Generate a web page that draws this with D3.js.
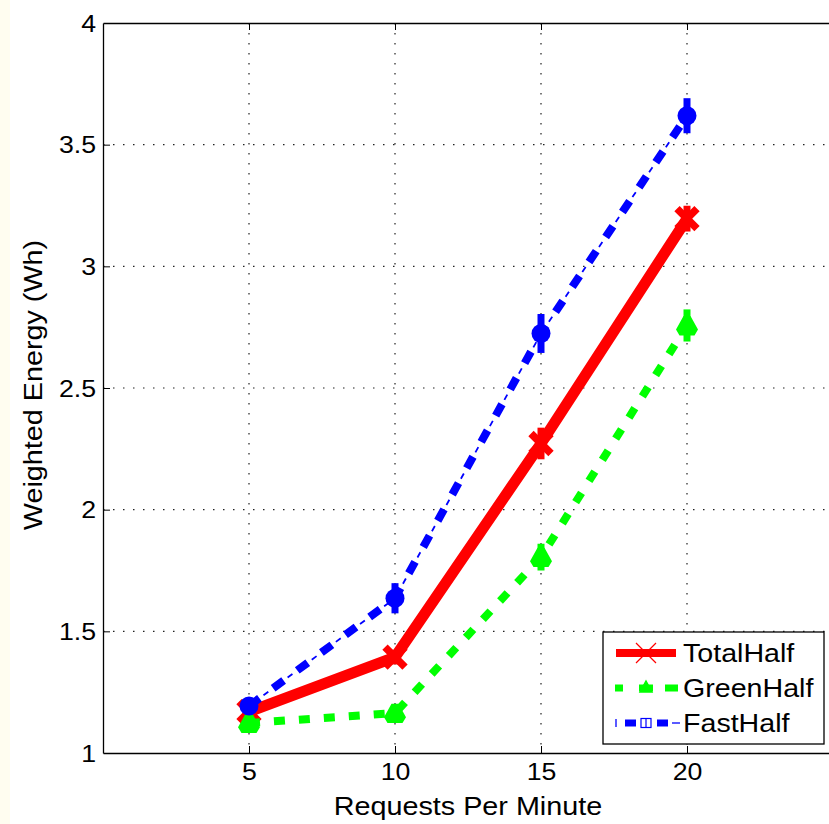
<!DOCTYPE html>
<html><head><meta charset="utf-8">
<script src="https://cdn.jsdelivr.net/npm/d3@7"></script>
<style>
body{margin:0;background:#fff;}
svg{display:block;}
text{font-family:"Liberation Sans",Arial,Helvetica,sans-serif;fill:#000;}
</style></head>
<body>
<svg id="chart" width="829" height="824"></svg>
<script>
// ---- data ----
const xValues = [5, 10, 15, 20];
const xTickValues = [5, 10, 15, 20];
const yTickValues = [1, 1.5, 2, 2.5, 3, 3.5, 4];
const yTickLabels = ["1", "1.5", "2", "2.5", "3", "3.5", "4"];
const seriesNames = ["TotalHalf", "GreenHalf", "FastHalf"];
const totalHalf = [1.17, 1.394, 2.272, 3.196];
const totalErr  = [0.02, 0.03, 0.065, 0.053];
const greenHalf = [1.123, 1.164, 1.805, 2.757];
const greenErr  = [0.02, 0.02, 0.055, 0.066];
const fastHalf  = [1.193, 1.636, 2.724, 3.619];
const fastErr   = [0.02, 0.062, 0.08, 0.072];
const xLabel = "Requests Per Minute";
const yLabel = "Weighted Energy (Wh)";

const svg = d3.select("#chart");
const L = 103, T = 23, B = 753, R = 833;
const x = d3.scaleLinear().domain([0, 25]).range([L, R]);
const y = d3.scaleLinear().domain([1, 4]).range([B, T]);

// left cream strip
svg.append("rect").attr("x", 0).attr("y", 0).attr("width", 10).attr("height", 824).attr("fill", "#fffdf0");

// grid
const grid = svg.append("g");
xTickValues.forEach(v => grid.append("line").attr("x1", x(v)).attr("x2", x(v)).attr("y1", T).attr("y2", B)
  .attr("stroke", "#222").attr("stroke-width", 1.2).attr("stroke-dasharray", "1.5,8.5"));
yTickValues.slice(1, -1).forEach(v => grid.append("line").attr("x1", L).attr("x2", R).attr("y1", y(v)).attr("y2", y(v))
  .attr("stroke", "#222").attr("stroke-width", 1.2).attr("stroke-dasharray", "1.5,8.5"));

// axes
const ax = svg.append("g");
const axBottom = ax.append("g").attr("transform", `translate(0,${B})`)
  .call(d3.axisBottom(x).tickValues(xTickValues).tickSizeInner(-7).tickSizeOuter(0).tickPadding(11).tickFormat(d3.format("d")));
const axTop = ax.append("g").attr("transform", `translate(0,${T})`)
  .call(d3.axisTop(x).tickValues(xTickValues).tickSizeInner(-7).tickSizeOuter(0).tickFormat(""));
const axLeft = ax.append("g").attr("transform", `translate(${L},0)`)
  .call(d3.axisLeft(y).tickValues(yTickValues).tickSizeInner(-7).tickSizeOuter(0).tickPadding(7)
    .tickFormat((d, i) => yTickLabels[i]));
[axBottom, axTop, axLeft].forEach(g => {
  g.selectAll(".domain").attr("stroke", "#000").attr("stroke-width", 1.3);
  g.selectAll(".tick line").attr("stroke", "#000").attr("stroke-width", 1);
  g.selectAll("text").attr("class", "tk").attr("font-size", 23).attr("font-family", null);
});
axBottom.selectAll("text").attr("dy", "0.71em");
axLeft.selectAll("text").attr("dy", "0.36em");
axLeft.selectAll(".tick").filter(d => d === 1 || d === 4).select("line").remove();

// series
const plot = svg.append("g");
function errorBars(vals, errs, color, w) {
  plot.append("g").selectAll("line").data(xValues).join("line")
    .attr("x1", d => x(d)).attr("x2", d => x(d))
    .attr("y1", (d, i) => y(vals[i] - errs[i])).attr("y2", (d, i) => y(vals[i] + errs[i]))
    .attr("stroke", color).attr("stroke-width", w);
}
const line = (vals) => d3.line().x(d => x(d)).y((d, i) => y(vals[i]))(xValues);

// TotalHalf
plot.append("path").attr("d", line(totalHalf)).attr("fill", "none").attr("stroke", "#ff0000")
  .attr("stroke-width", 11).attr("stroke-linejoin", "miter");
errorBars(totalHalf, totalErr, "#ff0000", 7);
plot.append("g").selectAll("path").data(xValues).join("path")
  .attr("d", (d, i) => { const cx = x(d), cy = y(totalHalf[i]), s = 10;
    return `M${cx - s},${cy - s}L${cx + s},${cy + s}M${cx - s},${cy + s}L${cx + s},${cy - s}`; })
  .attr("stroke", "#ff0000").attr("stroke-width", 7.5).attr("fill", "none");

// GreenHalf
plot.append("path").attr("d", line(greenHalf)).attr("fill", "none").attr("stroke", "#00ff00")
  .attr("stroke-width", 8).attr("stroke-dasharray", "11,14");
errorBars(greenHalf, greenErr, "#00ff00", 7);
plot.append("g").selectAll("path").data(xValues).join("path")
  .attr("d", (d, i) => { const cx = x(d), cy = y(greenHalf[i]), s = 7.5;
    return `M${cx},${cy - s}L${cx + s},${cy + s * 0.8}L${cx - s},${cy + s * 0.8}Z`; })
  .attr("fill", "#00ff00").attr("stroke", "#00ff00").attr("stroke-width", 8).attr("stroke-linejoin", "bevel");

// FastHalf
plot.append("path").attr("d", line(fastHalf)).attr("fill", "none").attr("stroke", "#0000ff")
  .attr("stroke-width", 8).attr("stroke-dasharray", "13,17");
plot.append("path").attr("d", line(fastHalf)).attr("fill", "none").attr("stroke", "#0000ff")
  .attr("stroke-width", 1.8).attr("stroke-dasharray", "0,18,6,6");
errorBars(fastHalf, fastErr, "#0000ff", 7);
plot.append("g").selectAll("circle").data(xValues).join("circle")
  .attr("cx", d => x(d)).attr("cy", (d, i) => y(fastHalf[i])).attr("r", 9.5).attr("fill", "#0000ff");

// axis labels
svg.append("text").attr("class", "axl").attr("x", 468).attr("y", 815).attr("text-anchor", "middle")
  .attr("font-size", 25).text(xLabel);
svg.append("text").attr("class", "axl").attr("transform", "translate(42,385) rotate(-90)").attr("text-anchor", "middle")
  .attr("font-size", 25).text(yLabel);

// legend
const lg = svg.append("g");
lg.append("rect").attr("x", 603).attr("y", 632).attr("width", 221).attr("height", 112)
  .attr("fill", "#fff").attr("stroke", "#000").attr("stroke-width", 1.3);
const rows = [653, 688, 723];
// row 1
lg.append("line").attr("x1", 616).attr("x2", 676).attr("y1", rows[0]).attr("y2", rows[0])
  .attr("stroke", "#ff0000").attr("stroke-width", 8);
lg.append("path").attr("d", `M636,${rows[0] - 10}L656,${rows[0] + 10}M636,${rows[0] + 10}L656,${rows[0] - 10}`)
  .attr("stroke", "#ff0000").attr("stroke-width", 1.2);
// row 2
lg.append("line").attr("x1", 615).attr("x2", 678).attr("y1", rows[1]).attr("y2", rows[1])
  .attr("stroke", "#00ff00").attr("stroke-width", 7).attr("stroke-dasharray", "8,16,14,12,14");
lg.append("path").attr("d", `M646,${rows[1] - 7}L652,${rows[1] + 4}L640,${rows[1] + 4}Z`)
  .attr("fill", "#00ff00").attr("stroke", "#00ff00").attr("stroke-width", 1.5);
// row 3
lg.append("line").attr("x1", 616).attr("x2", 616).attr("y1", rows[2] - 4).attr("y2", rows[2] + 4)
  .attr("stroke", "#0000ff").attr("stroke-width", 1.3);
lg.append("line").attr("x1", 625).attr("x2", 636).attr("y1", rows[2]).attr("y2", rows[2])
  .attr("stroke", "#0000ff").attr("stroke-width", 7);
lg.append("line").attr("x1", 657).attr("x2", 668).attr("y1", rows[2]).attr("y2", rows[2])
  .attr("stroke", "#0000ff").attr("stroke-width", 7);
lg.append("line").attr("x1", 672).attr("x2", 680).attr("y1", rows[2]).attr("y2", rows[2])
  .attr("stroke", "#0000ff").attr("stroke-width", 1.3);
lg.append("rect").attr("x", 641).attr("y", rows[2] - 4.5).attr("width", 10).attr("height", 9)
  .attr("fill", "#fff").attr("stroke", "#0000ff").attr("stroke-width", 1.2);
lg.append("line").attr("x1", 646).attr("x2", 646).attr("y1", rows[2] - 4.5).attr("y2", rows[2] + 4.5)
  .attr("stroke", "#0000ff").attr("stroke-width", 1.2);
seriesNames.forEach((n, i) => lg.append("text").attr("class", "lab").attr("x", 683).attr("y", rows[i])
  .attr("dy", "0.36em").attr("font-size", 26).text(n));

// widen glyphs to match the reference's wide lettering
svg.selectAll("text").each(function () {
  const len = this.getComputedTextLength();
  const c = this.getAttribute("class");
  const k = c === "tk" ? 1.16 : c === "axl" ? 1.15 : 1.1;
  if (len > 0) d3.select(this).attr("textLength", len * k).attr("lengthAdjust", "spacingAndGlyphs");
});
</script>
</body></html>
